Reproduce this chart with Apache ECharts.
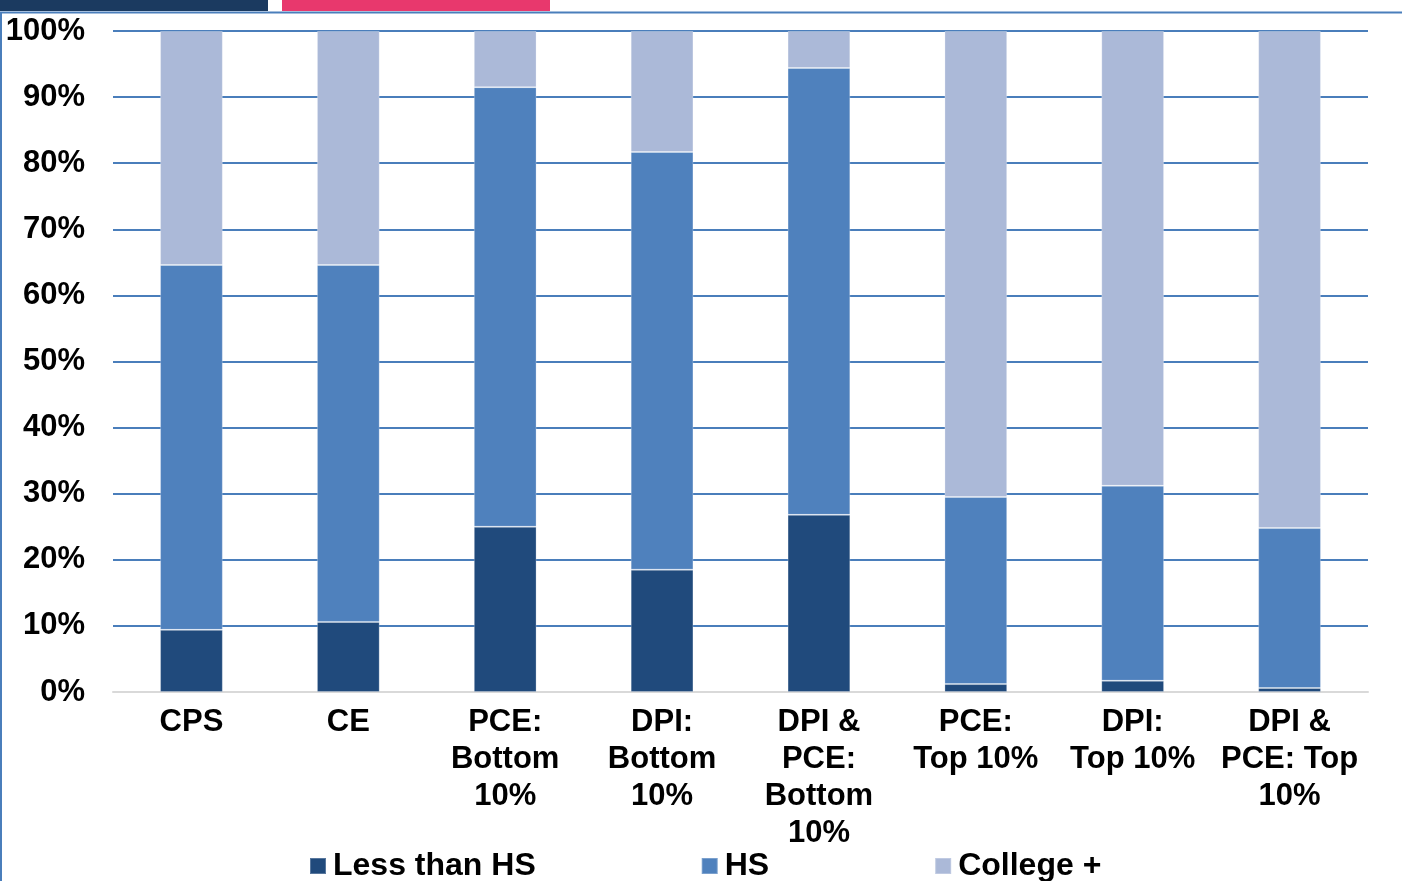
<!DOCTYPE html>
<html>
<head>
<meta charset="utf-8">
<script src="https://cdn.jsdelivr.net/npm/echarts@6/dist/echarts.min.js"></script>
<style>
  html, body { margin: 0; padding: 0; background: #fff; }
  #chart { width: 1402px; height: 881px; }
</style>
</head>
<body>
<div id="chart"></div>
<script>
// Education mix of each population group (shares, %)
const categories = ['CPS', 'CE', 'PCE:\nBottom\n10%', 'DPI:\nBottom\n10%', 'DPI &\nPCE:\nBottom\n10%', 'PCE:\nTop 10%', 'DPI:\nTop 10%', 'DPI &\nPCE: Top\n10%'];
const lessThanHS = [9.4, 10.6, 25.0, 18.5, 26.8, 1.2, 1.7, 0.6];
const highSchool = [55.2, 54.0, 66.5, 63.2, 67.6, 28.3, 29.5, 24.2];
const collegePlus = [35.4, 35.4, 8.5, 18.3, 5.6, 70.5, 68.8, 75.2];
const seriesNames = ['Less than HS', 'HS', 'College +'];
const yTicks = [0, 10, 20, 30, 40, 50, 60, 70, 80, 90, 100];

const colors = ['#204a7c', '#4f81bd', '#abb9d8'];
const font = '"Liberation Sans", Arial, sans-serif';

const chart = echarts.init(document.getElementById('chart'), null, { renderer: 'canvas' });

function barSeries(name, data, color) {
  return {
    name: name,
    type: 'bar',
    stack: 'total',
    barWidth: '40%',
    data: data,
    itemStyle: { color: color, borderColor: 'rgba(255,255,255,0.25)', borderWidth: 1 },
    emphasis: { disabled: true }
  };
}

chart.setOption({
  animation: false,
  textStyle: { fontFamily: font },
  graphic: [
    // slide header strips and frame lines
    { type: 'rect', shape: { x: 0, y: 0, width: 268, height: 11 }, style: { fill: '#1b3a60' } },
    { type: 'rect', shape: { x: 282, y: 0, width: 268, height: 11 }, style: { fill: '#e8386d' } },
    { type: 'line', shape: { x1: 0, y1: 12.5, x2: 1402, y2: 12.5 }, style: { stroke: '#4a7ebb', lineWidth: 2 } },
    { type: 'line', shape: { x1: 1, y1: 12, x2: 1, y2: 881 }, style: { stroke: '#4a7ebb', lineWidth: 2 } }
  ],
  grid: { left: 113, right: 34, top: 31, bottom: 189, containLabel: false },
  legend: {
    data: seriesNames,
    left: 304,
    top: 845,
    itemWidth: 16,
    itemHeight: 16,
    itemGap: 165,
    icon: 'rect',
    textStyle: { fontSize: 32, fontWeight: 'bold', color: '#000', fontFamily: font, padding: [0, 0, 0, 2] }
  },
  xAxis: {
    type: 'category',
    data: categories,
    axisLine: { show: true, lineStyle: { color: '#d9d9d9', width: 2 } },
    axisTick: { show: false },
    axisLabel: {
      interval: 0,
      fontSize: 31,
      fontWeight: 'bold',
      color: '#000',
      lineHeight: 37,
      margin: 12,
      fontFamily: font
    }
  },
  yAxis: {
    type: 'value',
    min: 0,
    max: 100,
    interval: 10,
    axisLine: { show: false },
    axisTick: { show: false },
    splitLine: {
      show: true,
      lineStyle: { color: '#4a7ebb', width: 2 }
    },
    axisLabel: {
      fontSize: 31,
      fontWeight: 'bold',
      color: '#000',
      margin: 28,
      fontFamily: font,
      formatter: function (v) { return yTicks.indexOf(v) >= 0 ? v + '%' : ''; }
    }
  },
  series: [
    barSeries(seriesNames[0], lessThanHS, colors[0]),
    barSeries(seriesNames[1], highSchool, colors[1]),
    barSeries(seriesNames[2], collegePlus, colors[2])
  ]
});
</script>
</body>
</html>
